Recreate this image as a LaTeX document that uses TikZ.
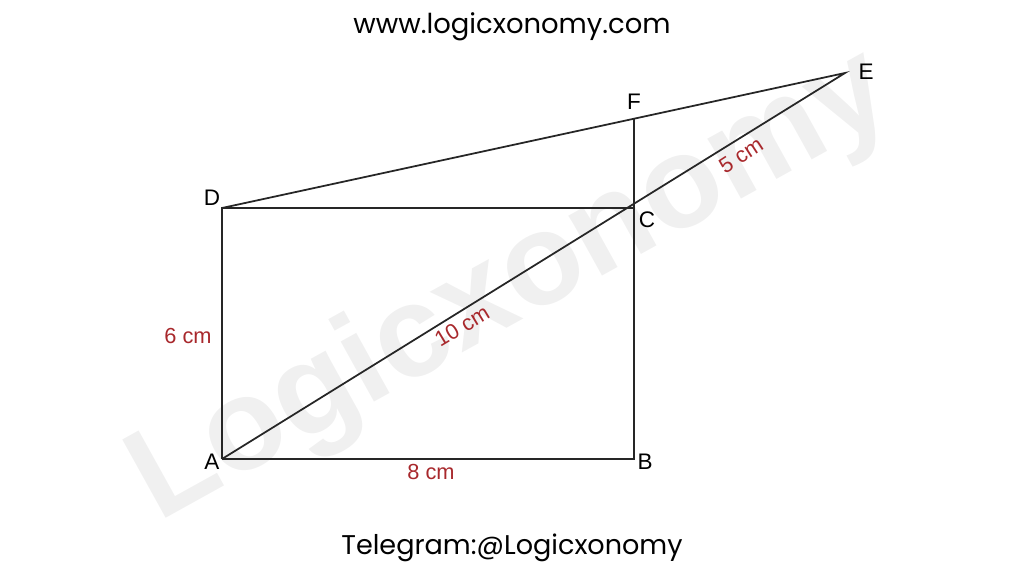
\documentclass[tikz,border=0pt]{standalone}
\usepackage[HTML]{xcolor}
\usepackage{fontspec}
\setmainfont{Liberation Sans}
\newfontfamily\sitefont{Poppins}
\usetikzlibrary{positioning}
\definecolor{dimred}{HTML}{A8282C}
\definecolor{markgray}{HTML}{F0F0F0}

\begin{document}
\begin{tikzpicture}[x=0.01cm, y=-0.01cm,
  edge/.style={line width=0.5pt, black!85},
  pt/.style={font=\fontsize{6.4}{7}\selectfont, inner sep=1pt},
  len/.style={font=\fontsize{6.2}{7}\selectfont, text=dimred, inner sep=1pt}]
\useasboundingbox (0,0) rectangle (1024,576);
% watermark
\node[font=\fontsize{37}{40}\bfseries, text=markgray, rotate=29] (mark) at (512,288) {Logicxonomy};
% vertices
\coordinate (A) at (222,459);
\coordinate (B) at (634,459);
\coordinate (C) at (634,208);
\coordinate (D) at (222,208);
\coordinate (E) at (845,73);
\coordinate (F) at (634,119);
% edges
\draw[edge] (A)--(B)--(F);
\draw[edge] (A)--(D)--(C);
\draw[edge] (A)--(E)--(D);
% points
\node[pt] at (212,198) {D};
\node[pt] at (634,102) {F};
\node[pt] at (866,72) {E};
\node[pt] at (647,220) {C};
\node[pt] at (212,462) {A};
\node[pt] at (645,462) {B};
% lengths
\node[len] at (188,336) {6 cm};
\node[len] at (431,472) {8 cm};
\node[len, rotate=31] at (462,326) {10 cm};
\node[len, rotate=33] at (741,155) {5 cm};
% site
\node[font=\sitefont\fontsize{7.8}{9}\selectfont] (web) at (512,27) {www.logicxonomy.com};
\node[font=\sitefont\fontsize{7.7}{9}\selectfont] (tg) at (512,548) {Telegram:@Logicxonomy};
\end{tikzpicture}
\end{document}
